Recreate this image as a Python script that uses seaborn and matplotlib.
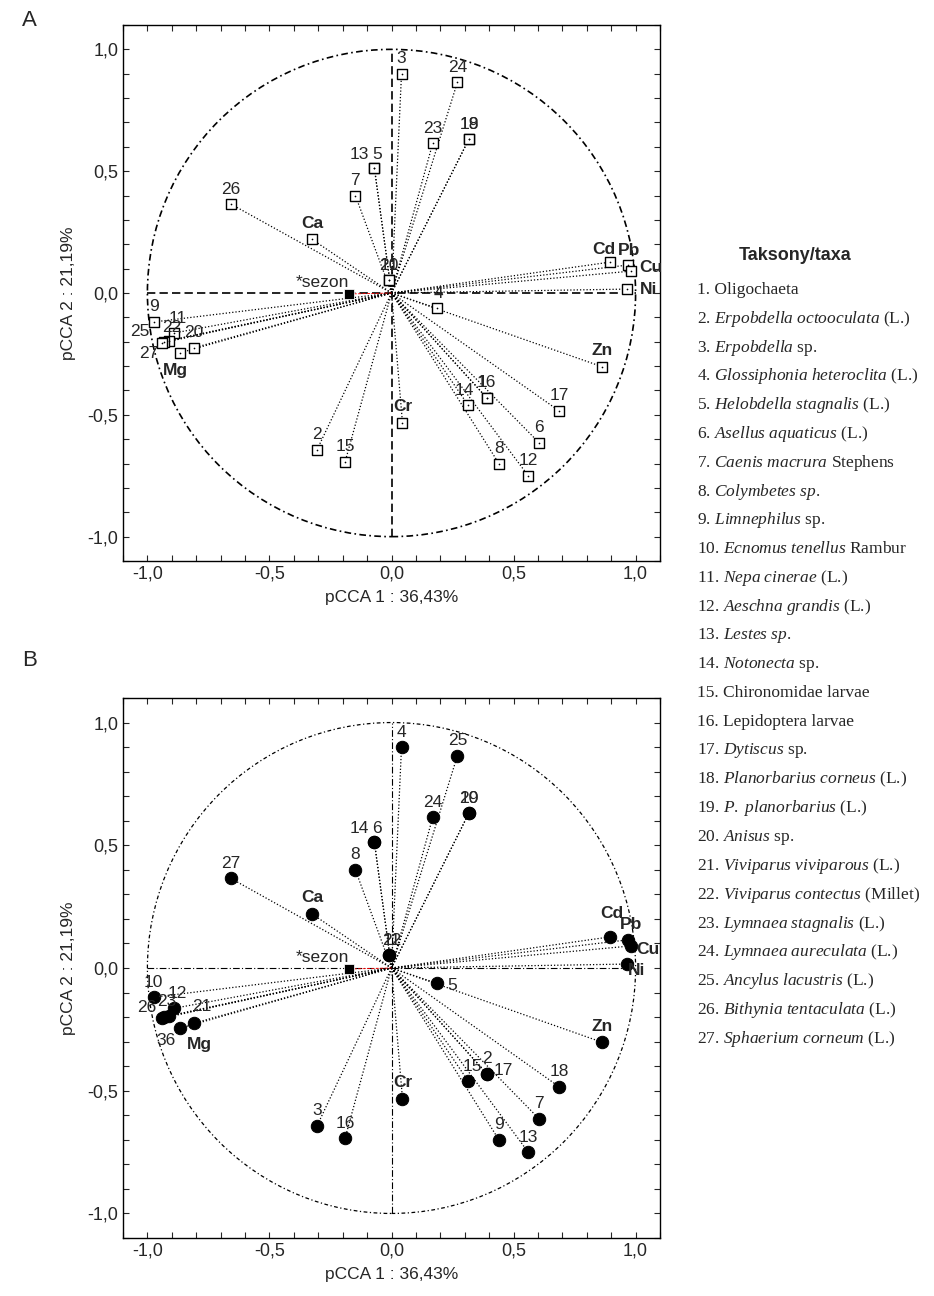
import matplotlib.pyplot as plt
from matplotlib.patches import Circle
from matplotlib.ticker import MultipleLocator, FuncFormatter
import seaborn as sns

# Taxa loadings (same ordination in both panels, panel A numbering)
taxa_x = [0.39, -0.305, 0.041, 0.185, -0.07, 0.605, -0.148, 0.44, -0.975, -0.01,
          -0.89, 0.56, -0.07, 0.313, -0.19, 0.39, 0.687, 0.317, 0.317, -0.81,
          -0.01, -0.91, 0.169, 0.27, -0.93, -0.658, -0.94]
taxa_y = [-0.43, -0.643, 0.90, -0.062, 0.512, -0.615, 0.40, -0.70, -0.119, 0.053,
          -0.164, -0.75, 0.512, -0.459, -0.693, -0.43, -0.484, 0.631, 0.631, -0.225,
          0.053, -0.195, 0.615, 0.865, -0.20, 0.365, -0.205]
labels_a = [str(i) for i in range(1, 28)]
labels_b = ["2", "3", "4", "5", "6", "7", "8", "9", "10", "11", "12", "13", "14", "15",
            "16", "17", "18", "19", "20", "21", "22", "23", "24", "25", "26", "27", "36"]

# Environmental variables
env_names = ["Ca", "Cd", "Pb", "Cu", "Ni", "Zn", "Cr", "Mg"]
env_x = [-0.325, 0.897, 0.97, 0.983, 0.963, 0.864, 0.045, -0.868]
env_y = [0.22, 0.127, 0.115, 0.09, 0.016, -0.303, -0.533, -0.246]
season_name = "*sezon"
season_x = -0.173
season_y = -0.004

# Legend text: (italic part, plain part)
taxa_names = [
    ("", "Oligochaeta"), ("Erpobdella octooculata", " (L.)"), ("Erpobdella", " sp."),
    ("Glossiphonia heteroclita", " (L.)"), ("Helobdella stagnalis", " (L.)"),
    ("Asellus aquaticus", " (L.)"), ("Caenis macrura", " Stephens"), ("Colymbetes sp.", ""),
    ("Limnephilus", " sp."), ("Ecnomus tenellus", " Rambur"), ("Nepa cinerae", " (L.)"),
    ("Aeschna grandis (", "L.)"), ("Lestes sp.", ""), ("Notonecta", " sp."),
    ("", "Chironomidae larvae"), ("", "Lepidoptera larvae"), ("Dytiscus", " sp."),
    ("Planorbarius corneus", " (L.)"), ("P. planorbarius", " (L.)"), ("Anisus", " sp."),
    ("Viviparus viviparous", " (L.)"), ("Viviparus contectus", " (Millet)"),
    ("Lymnaea stagnalis", " (L.)"), ("Lymnaea aureculata", " (L.)"),
    ("Ancylus lacustris", " (L.)"), ("Bithynia tentaculata", " (L.)"),
    ("Sphaerium corneum", " (L.)"),
]

# label offsets in pixels (dx, dy up), default is straight above the marker
off_a = {"1": (-4, 15), "13": (-15, 14), "5": (3, 14), "25": (-25, 10), "22": (2, 13),
         "27": (-13, -11), "11": (3, 14), "14": (-4, 14), "4": (2, 15)}
env_off_a = {"Mg": (-4, -18), "Cd": (-7, 13), "Pb": (1, 14), "Cu": (19, 4), "Ni": (22, 0)}
off_b = {"5": (16, -2), "14": (-15, 14), "6": (3, 14), "26": (-18, 10), "23": (-3, 14),
         "36": (4, -22), "21": (8, 17), "17": (17, 3), "15": (4, 14), "12": (3, 15),
         "22": (3, 14), "11": (3, 14)}
env_off_b = {"Mg": (20, -16), "Cd": (1, 23), "Pb": (3, 15), "Cu": (16, -4), "Ni": (10, -6)}

sns.set_theme(style="ticks")
plt.rcParams["font.family"] = ["Liberation Sans", "DejaVu Sans"]
plt.rcParams["mathtext.fontset"] = "custom"
plt.rcParams["mathtext.rm"] = "Liberation Serif"
plt.rcParams["mathtext.it"] = "Liberation Serif:italic"

W, H = 934, 1296
fig = plt.figure(figsize=(W / 100, H / 100), dpi=100)


def px_rect(left, top, right, bottom):
    return [left / W, 1 - bottom / H, (right - left) / W, (bottom - top) / H]


def draw_panel(ax, labels, offs, env_offs, filled):
    line_style = (0, (1, 1.6))
    for x, y in zip(taxa_x + env_x, taxa_y + env_y):
        ax.plot([0, x], [0, y], color="black", lw=0.9, ls=line_style, zorder=2)
    ax.plot([season_x, 0], [season_y, 0], color="red", lw=0.6, ls="--", zorder=2)

    if filled:
        ax.add_patch(Circle((0, 0), 1, fill=False, ec="black", lw=0.9, ls=(0, (3, 2, 1, 2))))
        ax.hlines(0, -1, 1, color="black", lw=0.8, ls=(0, (6, 2, 1, 2)), zorder=1)
        ax.vlines(0, -1, 1, color="black", lw=0.8, ls=(0, (6, 2, 1, 2)), zorder=1)
        sns.scatterplot(x=taxa_x + env_x, y=taxa_y + env_y, marker="o", s=80,
                        color="black", edgecolor="black", ax=ax, zorder=4)
    else:
        ax.add_patch(Circle((0, 0), 1, fill=False, ec="black", lw=1.2, ls=(0, (4, 2, 1, 2))))
        ax.hlines(0, -1, 1, color="black", lw=1.2, ls=(0, (5, 2.5)), zorder=1)
        ax.vlines(0, -1, 1, color="black", lw=1.2, ls=(0, (5, 2.5)), zorder=1)
        sns.scatterplot(x=taxa_x + env_x, y=taxa_y + env_y, marker="s", s=50,
                        facecolor="white", edgecolor="black", linewidth=1, ax=ax, zorder=4)
        sns.scatterplot(x=taxa_x + env_x, y=taxa_y + env_y, marker="o", s=1.5,
                        color="black", linewidth=0, ax=ax, zorder=5)
    sns.scatterplot(x=[season_x], y=[season_y], marker="s", s=45, color="black", ax=ax, zorder=5)

    for lab, x, y in zip(labels, taxa_x, taxa_y):
        dx, dy = offs.get(lab, (0, 15))
        ax.annotate(lab, (x, y), xytext=(dx, dy), textcoords="offset pixels",
                    ha="center", va="center", fontsize=12.5, zorder=6)
    for lab, x, y in zip(env_names, env_x, env_y):
        dx, dy = env_offs.get(lab, (0, 16))
        ax.annotate(lab, (x, y), xytext=(dx, dy), textcoords="offset pixels",
                    ha="center", va="center", fontsize=12.5, fontweight="bold", zorder=6)
    ax.annotate(season_name, (season_x, season_y), xytext=(-27, 11), textcoords="offset pixels",
                ha="center", va="center", fontsize=12.5, zorder=6)

    ax.set_xlim(-1.1, 1.1)
    ax.set_ylim(-1.1, 1.1)
    fmt = FuncFormatter(lambda v, _: f"{v:.1f}".replace(".", ","))
    for axis in (ax.xaxis, ax.yaxis):
        axis.set_major_locator(MultipleLocator(0.5))
        axis.set_minor_locator(MultipleLocator(0.1))
        axis.set_major_formatter(fmt)
    ax.tick_params(which="both", direction="in", top=True, right=True, length=4,
                   width=0.8, labelsize=13)
    for sp in ax.spines.values():
        sp.set_linewidth(1)
        sp.set_color("black")
    ax.set_xlabel("pCCA 1 : 36,43%", fontsize=12.5, labelpad=5)
    ax.set_ylabel("pCCA 2 : 21,19%", fontsize=12.5, labelpad=8)


ax_a = fig.add_axes(px_rect(123, 25, 660, 561))
draw_panel(ax_a, labels_a, off_a, env_off_a, filled=False)
ax_b = fig.add_axes(px_rect(123, 698, 660, 1238))
draw_panel(ax_b, labels_b, off_b, env_off_b, filled=True)

fig.text(22 / W, 1 - 20 / H, "A", fontsize=16, ha="left", va="center")
fig.text(22 / W, 1 - 660 / H, "B", fontsize=16, ha="left", va="center")

# species list on the right
fig.text(795 / W, 1 - 256 / H, "Taksony/taxa", fontsize=13, fontweight="bold",
         ha="center", va="center")
for i, (it, plain) in enumerate(taxa_names):
    s = f"{i + 1}. "
    if it:
        s += r"$\mathit{" + it.replace(" ", r"\ ") + "}$"
    s += plain
    fig.text(697 / W, 1 - (290 + i * 28.8) / H, s, fontsize=12.5,
             family="Liberation Serif", ha="left", va="center")

fig.savefig("out.png", dpi=100)
